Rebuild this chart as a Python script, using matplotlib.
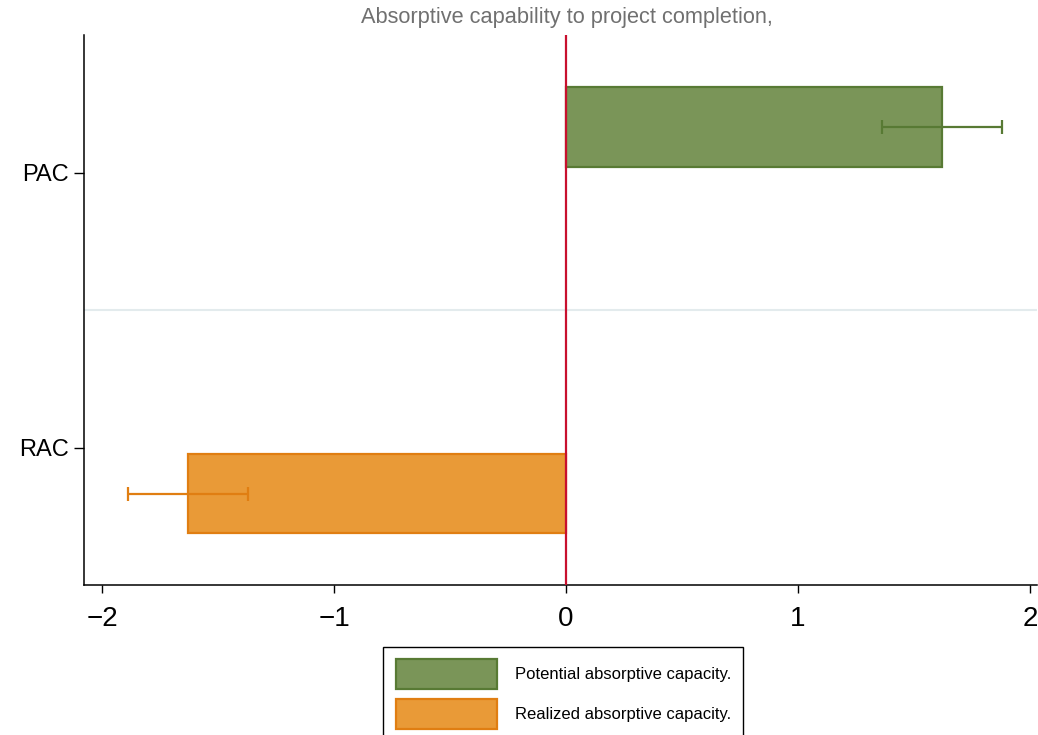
import numpy as np
import matplotlib
matplotlib.use("Agg")
import matplotlib.pyplot as plt
from matplotlib.patches import Patch

plt.rcParams['font.family'] = ['Liberation Sans', 'DejaVu Sans']

# data
categories = ['PAC', 'RAC']
legend_labels = ['Potential absorptive capacity.', 'Realized absorptive capacity.']
values = [1.62, -1.63]
errors = [0.26, 0.26]
xticks = [-2, -1, 0, 1, 2]

fills = ['#7a9558', '#e99a37']
edges = ['#587a34', '#e07e12']

fig = plt.figure(figsize=(10.38, 7.35), dpi=100)
ax = fig.add_axes([0.081, 0.204, 0.918, 0.748])

cat_pos = np.array([1.0, 0.0])
offsets = np.array([0.167, -0.167])
bar_pos = cat_pos + offsets

for i in range(len(categories)):
    ax.barh(bar_pos[i], values[i], height=0.29, color=fills[i],
            edgecolor=edges[i], linewidth=1.6, zorder=2)
    ax.errorbar(values[i], bar_pos[i], xerr=errors[i], fmt='none',
                ecolor=edges[i], elinewidth=1.6, capsize=5, capthick=1.6,
                zorder=3)

# divider between groups and zero line
ax.axhline(0.5, color='#e3ebed', linewidth=1.5, zorder=1)
ax.axvline(0, color='#c8102e', linewidth=1.6, zorder=4)

ax.set_xlim(-2.078, 2.03)
ax.set_ylim(-0.5, 1.5)
ax.set_xticks(xticks)
ax.set_xticklabels([f'{t}'.replace('-', '\u2212') for t in xticks], fontsize=20)
ax.set_yticks(cat_pos)
ax.set_yticklabels(categories, fontsize=17)
ax.tick_params(axis='x', length=6, width=1, pad=9, direction='out')
ax.tick_params(axis='y', length=7, width=1, pad=4, direction='out')
ax.spines['top'].set_visible(False)
ax.spines['right'].set_visible(False)
for s in ('left', 'bottom'):
    ax.spines[s].set_linewidth(1.1)

fig.text(0.546, 0.976, 'Absorptive capability to project completion,',
         ha='center', va='center', fontsize=15.7, color='#707070')

handles = [Patch(facecolor=fills[i], edgecolor=edges[i], linewidth=1.6)
           for i in range(len(categories))]
leg = fig.legend(handles, legend_labels, loc='upper left',
                 bbox_to_anchor=(0.369, 0.12), fontsize=12,
                 handlelength=6.1, handleheight=2.39, handletextpad=1.05,
                 labelspacing=0.6, borderpad=0.75, borderaxespad=0,
                 fancybox=False, framealpha=1, edgecolor='black')
leg.get_frame().set_linewidth(1.0)

fig.savefig('out.png', dpi=100)
